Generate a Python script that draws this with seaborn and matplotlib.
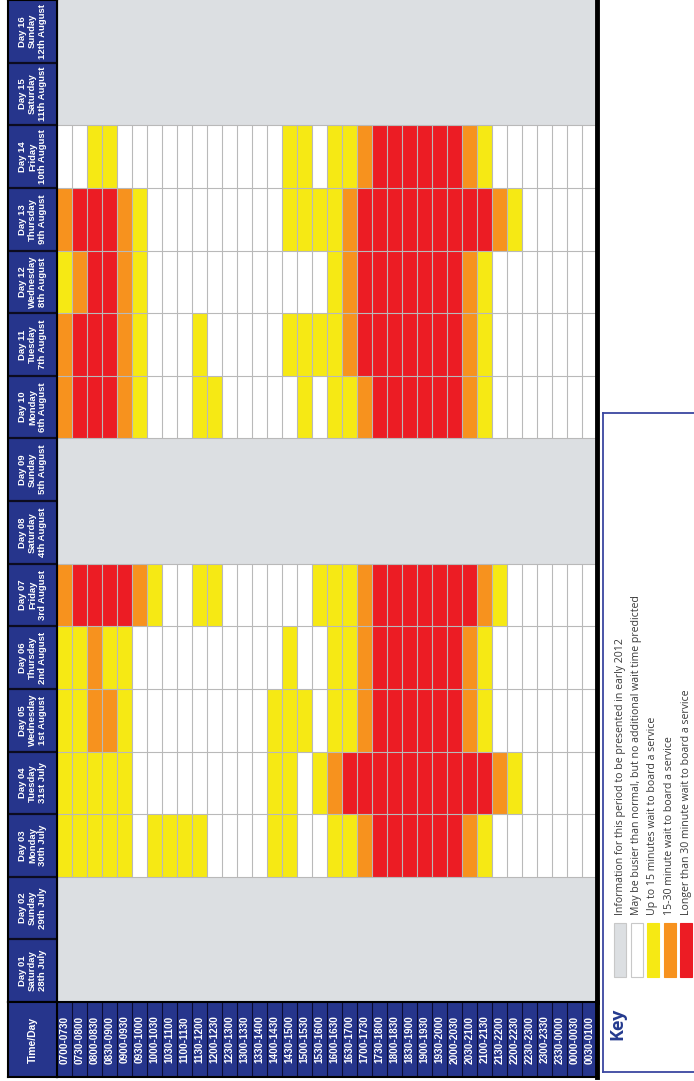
import numpy as np
import pandas as pd
import matplotlib
matplotlib.use("Agg")
import matplotlib.pyplot as plt
import seaborn as sns
from matplotlib.colors import ListedColormap
from matplotlib.patches import Rectangle

# ---------------- data ----------------
# codes: 0 = info later (grey), 1 = busier, no extra wait (white),
#        2 = up to 15 min, 3 = 15-30 min, 4 = > 30 min
time_labels = ["0700-0730", "0730-0800", "0800-0830", "0830-0900", "0900-0930", "0930-1000",
               "1000-1030", "1030-1100", "1100-1130", "1130-1200", "1200-1230", "1230-1300",
               "1300-1330", "1330-1400", "1400-1430", "1430-1500", "1500-1530", "1530-1600",
               "1600-1630", "1630-1700", "1700-1730", "1730-1800", "1800-1830", "1830-1900",
               "1900-1930", "1930-2000", "2000-2030", "2030-2100", "2100-2130", "2130-2200",
               "2200-2230", "2230-2300", "2300-2330", "2330-0000", "0000-0030", "0030-0100"]

day_labels = ["Day 01\nSaturday\n28th July", "Day 02\nSunday\n29th July", "Day 03\nMonday\n30th July",
              "Day 04\nTuesday\n31st July", "Day 05\nWednesday\n1st August", "Day 06\nThursday\n2nd August",
              "Day 07\nFriday\n3rd August", "Day 08\nSaturday\n4th August", "Day 09\nSunday\n5th August",
              "Day 10\nMonday\n6th August", "Day 11\nTuesday\n7th August", "Day 12\nWednesday\n8th August",
              "Day 13\nThursday\n9th August", "Day 14\nFriday\n10th August", "Day 15\nSaturday\n11th August",
              "Day 16\nSunday\n12th August"]

day01 = [0] * 36
day02 = [0] * 36
day03 = [2,2,2,2,2,1,2,2,2,2,1,1,1,1,2,2,1,1,2,2,3,4,4,4,4,4,4,3,2,1,1,1,1,1,1,1]
day04 = [2,2,2,2,2,1,1,1,1,1,1,1,1,1,2,2,1,2,3,4,4,4,4,4,4,4,4,4,4,3,2,1,1,1,1,1]
day05 = [2,2,3,3,2,1,1,1,1,1,1,1,1,1,2,2,2,1,2,2,3,4,4,4,4,4,4,3,2,1,1,1,1,1,1,1]
day06 = [2,2,3,2,2,1,1,1,1,1,1,1,1,1,1,2,1,1,2,2,3,4,4,4,4,4,4,3,2,1,1,1,1,1,1,1]
day07 = [3,4,4,4,4,3,2,1,1,2,2,1,1,1,1,1,1,2,2,2,3,4,4,4,4,4,4,4,3,2,1,1,1,1,1,1]
day08 = [0] * 36
day09 = [0] * 36
day10 = [3,4,4,4,3,2,1,1,1,2,2,1,1,1,1,1,2,1,2,2,3,4,4,4,4,4,4,3,2,1,1,1,1,1,1,1]
day11 = [3,4,4,4,3,2,1,1,1,2,1,1,1,1,1,2,2,2,2,3,4,4,4,4,4,4,4,3,2,1,1,1,1,1,1,1]
day12 = [2,3,4,4,3,2,1,1,1,1,1,1,1,1,1,1,1,1,2,3,4,4,4,4,4,4,4,3,2,1,1,1,1,1,1,1]
day13 = [3,4,4,4,3,2,1,1,1,1,1,1,1,1,1,2,2,2,2,3,4,4,4,4,4,4,4,4,4,3,2,1,1,1,1,1]
day14 = [1,1,2,2,1,1,1,1,1,1,1,1,1,1,1,2,2,1,2,2,3,4,4,4,4,4,4,3,2,1,1,1,1,1,1,1]
day15 = [0] * 36
day16 = [0] * 36

key_labels = ["Information for this period to be presented in early 2012",
              "May be busier than normal, but no additional wait time predicted",
              "Up to 15 minutes wait to board a service",
              "15-30 minute wait to board a service",
              "Longer than 30 minute wait to board a service"]

# ---------------- style ----------------
GREY = "#dcdfe2"
WHITE = "#ffffff"
YELLOW = "#f6e914"
ORANGE = "#f7921e"
RED = "#ec1c24"
NAVY = "#26358c"
LINE = "#b9b9b9"
palette = [GREY, WHITE, YELLOW, ORANGE, RED]

NARROW = ["Liberation Sans Narrow", "Liberation Sans", "DejaVu Sans"]
KEYFONT = ["Open Sans", "Noto Sans", "DejaVu Sans"]

rows = [day16, day15, day14, day13, day12, day11, day10, day09,
        day08, day07, day06, day05, day04, day03, day02, day01]
row_names = day_labels[::-1]
df = pd.DataFrame(rows, index=row_names, columns=time_labels)

W, H = 694, 1081
fig = plt.figure(figsize=(W / 100, H / 100), dpi=100)
fig.patch.set_facecolor("white")


def ax_px(x0, y0, x1, y1):
    return fig.add_axes([x0 / W, 1 - y1 / H, (x1 - x0) / W, (y1 - y0) / H])


GRID_TOP, GRID_BOT = 0, 1002
GRID_L, GRID_R = 57, 597
TAB_BOT = 1077
HDR_L = 8

# ---- main heatmap ----
ax = ax_px(GRID_L, GRID_TOP, GRID_R, GRID_BOT)
ax.set_facecolor(GREY)
sns.heatmap(df, ax=ax, cmap=ListedColormap(palette), vmin=-0.5, vmax=4.5,
            cbar=False, linewidths=0, xticklabels=False, yticklabels=False)
ax.set_xlabel("")
ax.set_ylabel("")

# cell borders only where data has been published
n_rows, n_cols = df.shape
active = (df.values != 0).any(axis=1)
for r in range(n_rows):
    if active[r]:
        ax.vlines(np.arange(1, n_cols), r, r + 1, color=LINE, lw=0.8)
for b in range(1, n_rows):
    if active[b - 1] or active[b]:
        ax.hlines(b, 0, n_cols, color=LINE, lw=0.8)

for s in ["left", "right", "bottom", "top"]:
    ax.spines[s].set_visible(True)
    ax.spines[s].set_color("black")
ax.spines["right"].set_linewidth(3.5)
ax.spines["bottom"].set_linewidth(2)
ax.spines["left"].set_linewidth(1.5)
ax.spines["top"].set_linewidth(0)

# ---- day header column ----
axh = ax_px(HDR_L, GRID_TOP, GRID_L, GRID_BOT)
axh.set_facecolor(NAVY)
axh.set_xlim(0, 1)
axh.set_ylim(len(row_names), 0)
axh.set_xticks([])
axh.set_yticks([])
for s in axh.spines.values():
    s.set_color("black")
    s.set_linewidth(1.5)
for i in range(1, len(row_names)):
    axh.axhline(i, color="#0c0c20", lw=1.6)
for i, lab in enumerate(row_names):
    axh.text(0.5, i + 0.5, lab, rotation=90, ha="center", va="center",
             multialignment="center", color="white", fontsize=6.8, fontweight="bold",
             family=NARROW, linespacing=1.15)

# ---- time label row ----
axt = ax_px(GRID_L, GRID_BOT, GRID_R, TAB_BOT)
axt.set_facecolor(NAVY)
axt.set_xlim(0, len(time_labels))
axt.set_ylim(0, 1)
axt.set_xticks([])
axt.set_yticks([])
for s in axt.spines.values():
    s.set_color("black")
    s.set_linewidth(1.5)
axt.spines["right"].set_linewidth(3.5)
for j in range(1, len(time_labels)):
    axt.axvline(j, color="#0c0c30", lw=0.8)
for j, lab in enumerate(time_labels):
    axt.text(j + 0.5, 0.5, lab, rotation=90, ha="center", va="center",
             color="white", fontsize=7.2, fontweight="bold", family=NARROW)

# ---- corner cell ----
axc = ax_px(HDR_L, GRID_BOT, GRID_L, TAB_BOT)
axc.set_facecolor(NAVY)
axc.set_xticks([])
axc.set_yticks([])
for s in axc.spines.values():
    s.set_color("black")
    s.set_linewidth(1.5)
axc.text(0.5, 0.5, "Time/Day", rotation=90, ha="center", va="center",
         color="white", fontsize=7.5, fontweight="bold", family=NARROW,
         transform=axc.transAxes)

# ---- key box ----
KX0, KY0, KX1, KY1 = 603, 413, 712, 1072
axk = ax_px(KX0, KY0, KX1, KY1)
axk.set_xlim(KX0, KX1)
axk.set_ylim(KY1, KY0)
axk.set_xticks([])
axk.set_yticks([])
for s in axk.spines.values():
    s.set_color("#3a46a0")
    s.set_linewidth(1.3)
axk.text(617, 1024, "Key", rotation=90, ha="center", va="center",
         color="#243a8e", fontsize=13, fontweight="bold", family=KEYFONT)
key_x = [620, 636.5, 653, 669.5, 686]
for xc, col, lab in zip(key_x, palette, key_labels):
    axk.add_patch(Rectangle((xc - 6, 923), 12, 54, facecolor=col,
                            edgecolor="#c8c8c8" if col in (GREY, WHITE) else col, lw=0.8))
    axk.text(xc, 915, lab, rotation=90, ha="center", va="bottom",
             color="#3a3a3a", fontsize=7.6, family=KEYFONT)

fig.savefig("out.png", dpi=100, facecolor="white")
